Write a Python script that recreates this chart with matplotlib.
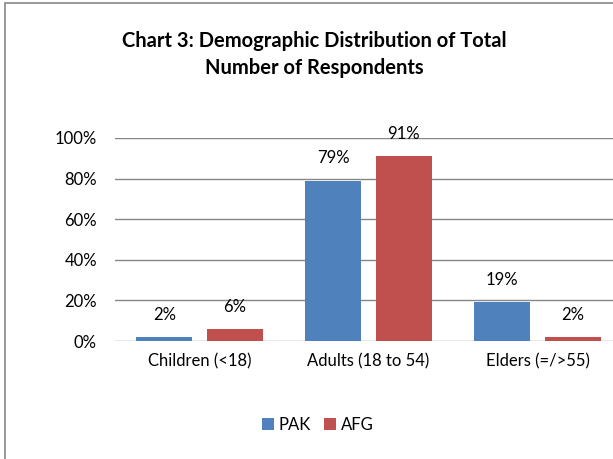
import numpy as np
import matplotlib
matplotlib.use("Agg")
from matplotlib import pyplot as plt
from matplotlib.patches import Rectangle

# dados
categorias = ["Children (<18)", "Adults (18 to 54)", "Elders (=/>55)"]
pak = [2, 79, 19]
afg = [6, 91, 2]
series = ["PAK", "AFG"]
cores = ["#4F81BD", "#C0504D"]
yticks = [0, 20, 40, 60, 80, 100]

plt.rcParams['font.family'] = ['Lato', 'DejaVu Sans']

fig = plt.figure(figsize=(6.13, 4.59), dpi=100)
ax = fig.add_axes([115/613, 118/459, 507/613, 203/459])

x = np.arange(len(categorias))
w = 0.333
off = 0.2086
b1 = ax.bar(x - off, pak, w, color=cores[0], label=series[0], zorder=3)
b2 = ax.bar(x + off, afg, w, color=cores[1], label=series[1], zorder=3)

for barras in (b1, b2):
    for b in barras:
        ax.annotate(f"{b.get_height():.0f}%", (b.get_x() + b.get_width()/2, b.get_height()),
                    xytext=(0, 16), textcoords="offset points", ha="center", va="center",
                    fontsize=12, color="#000000")

ax.set_xlim(-0.5, 2.5)
ax.set_ylim(0, 100)
ax.set_yticks(yticks)
ax.set_yticklabels([f"{v}%" for v in yticks], fontsize=12)
ax.set_xticks(x)
ax.set_xticklabels(categorias, fontsize=12)
ax.tick_params(axis="y", length=0, pad=13)
ax.tick_params(axis="x", length=0, pad=9)
ax.grid(axis="y", color="#868686", linewidth=1.0, zorder=0)
for s in ax.spines.values():
    s.set_visible(False)
ax.set_facecolor("none")

fig.text(314/613, 1 - 41/459, "Chart 3: Demographic Distribution of Total", ha="center", va="center",
         fontsize=14.5, fontweight="bold")
fig.text(314/613, 1 - 68/459, "Number of Respondents", ha="center", va="center",
         fontsize=14.5, fontweight="bold")

fig.legend(loc="center", bbox_to_anchor=(318/613, 1 - 425/459), ncol=2, frameon=False,
           fontsize=12, handlelength=0.7, handleheight=0.7, handletextpad=0.3,
           columnspacing=0.8)

# borda do grafico
fig.patches.append(Rectangle((5/613, -0.2), 1.2, 1.2 - 3/459, transform=fig.transFigure,
                             fill=False, edgecolor="#868686", linewidth=1.2, clip_on=False))

fig.savefig("out.png", dpi=100)
